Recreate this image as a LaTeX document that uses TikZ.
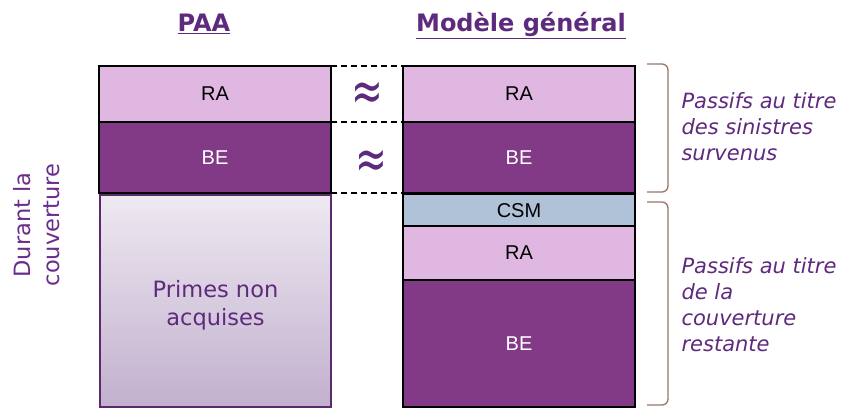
\documentclass[tikz,border=0pt]{standalone}
\usepackage{fontspec}
\setmainfont{DejaVu Sans}
\newfontfamily\arialfont{Liberation Sans}
\definecolor{raPink}{HTML}{E0B7E0}
\definecolor{bePurple}{HTML}{833A86}
\definecolor{csmBlue}{HTML}{B0C2D8}
\definecolor{txtPurple}{HTML}{5E2A7E}
\definecolor{durPurple}{HTML}{6B2D8C}
\definecolor{brkBrown}{HTML}{9A7565}
\definecolor{pnaTop}{HTML}{EEE9F1}
\definecolor{pnaBot}{HTML}{C2B0CE}
\definecolor{pnaLine}{HTML}{5B2A6E}
\tikzset{
  blk/.style={draw=black,line width=1.6pt,inner sep=0pt,outer sep=0pt,anchor=north west,
    minimum width=232pt,font=\arialfont\fontsize{20}{23}\selectfont},
  ttl/.style={anchor=base,text=txtPurple,font=\bfseries\fontsize{24}{28}\selectfont},
  note/.style={anchor=west,align=left,text=txtPurple,font=\itshape\fontsize{21}{26}\selectfont},
  brk/.style={draw=brkBrown,line width=1.3pt,rounded corners=6pt},
  gap/.style={line width=1.3pt,dash pattern=on 6pt off 4pt},
  approx/.style={text=txtPurple,inner sep=0pt,font=\fontsize{38}{38}\selectfont}
}
\begin{document}
\begin{tikzpicture}[x=1pt,y=-1pt]
\useasboundingbox (0,0) rectangle (841,409);

% titles
\node[ttl] (tPAA) at (204,32) {\underline{PAA}};
\node[ttl] (tMG) at (521,32) {\underline{Modèle général}};

% PAA column
\node[blk,fill=raPink,minimum height=56pt] (paaRA) at (99,66) {RA};
\node[blk,fill=bePurple,text=white,minimum height=71pt] (paaBE) at (99,122) {BE};
\node[blk,draw=pnaLine,line width=1.2pt,top color=pnaTop,bottom color=pnaBot,
  minimum width=231pt,minimum height=212pt] (paaPNA) at (100,195) {};
\node[align=center,text=txtPurple,font=\fontsize{22.5}{28}\selectfont] (pnaLbl)
  at ([yshift=-4pt]paaPNA.center) {Primes non\\acquises};

% general model column
\foreach \nm/\yy/\hh/\cc/\tc/\lb in {mgRA/66/56/raPink/black/RA, mgBE/122/71/bePurple/white/BE,
  mgCSM/194.5/31.5/csmBlue/black/CSM, mgRAlrc/226/54/raPink/black/RA, mgBElrc/280/127/bePurple/white/BE}
  \node[blk,fill=\cc,text=\tc,minimum height=\hh pt] (\nm) at (403,\yy) {\lb};

% dashed links between the columns
\draw[gap] (paaRA.north east) -- (mgRA.north west);
\draw[gap] (paaBE.north east) -- (mgBE.north west);
\draw[gap] (paaBE.south east) -- (mgBE.south west);
\node[approx] (apRA) at (367,96) {\scalebox{1}[1.5]{≈}};
\node[approx] (apBE) at (371,164) {\scalebox{1}[1.5]{≈}};

% left label
\node[rotate=90,align=center,text=durPurple,font=\fontsize{22.5}{29}\selectfont] (durant) at (37,225) {Durant la\\couverture};

% brackets and notes
\coordinate (brLIC) at (647,64);
\coordinate (brLRC) at (647,202);
\draw[brk] (brLIC) -- ++(21,0) -- ++(0,128) -- ++(-21,0);
\draw[brk] (brLRC) -- ++(21,0) -- ++(0,203) -- ++(-21,0);
\node[note] (nLIC) at (678,127) {Passifs au titre\\des sinistres\\survenus};
\node[note] (nLRC) at (678,305) {Passifs au titre\\de la\\couverture\\restante};
\end{tikzpicture}
\end{document}
